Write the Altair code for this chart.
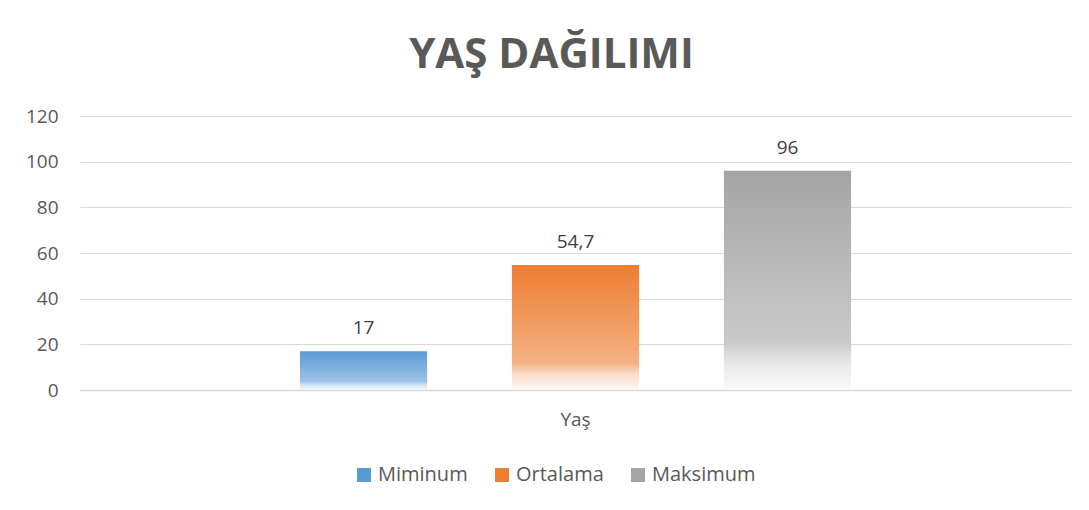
import altair as alt
import pandas as pd

# ---- data ----
category = "Yaş"
series = ["Miminum", "Ortalama", "Maksimum"]
values = [17, 54.7, 96]
value_labels = ["17", "54,7", "96"]
y_ticks = [0, 20, 40, 60, 80, 100, 120]

base_colors = ["#5B9BD5", "#ED7D31", "#A5A5A5"]

df = pd.DataFrame({
    "cat": [category] * len(series),
    "series": series,
    "value": values,
    "label": value_labels,
})


def tint(hex_color, t):
    h = hex_color.lstrip("#")
    r, g, b = (int(h[i:i + 2], 16) for i in (0, 2, 4))
    r, g, b = (round(c + (255 - c) * t) for c in (r, g, b))
    return "#{:02X}{:02X}{:02X}".format(r, g, b)


def gradient(hex_color):
    return {
        "gradient": "linear",
        "x1": 0, "x2": 0, "y1": 0, "y2": 1,
        "stops": [
            {"offset": 0.0, "color": hex_color},
            {"offset": 0.78, "color": tint(hex_color, 0.40)},
            {"offset": 0.88, "color": tint(hex_color, 0.75)},
            {"offset": 1.0, "color": tint(hex_color, 0.94)},
        ],
    }


conditions = [
    {"test": f"datum.series === '{s}'", "value": gradient(c)}
    for s, c in zip(series, base_colors)
]

FONT = "Open Sans"

x_enc = alt.X(
    "cat:N",
    title=None,
    scale=alt.Scale(paddingInner=0, paddingOuter=0.399),
    axis=alt.Axis(
        labelAngle=0, labelFontSize=19, labelColor="#595959", labelPadding=20,
        ticks=False, tickSize=0, domainColor="#D9D9D9", domainWidth=1.5,
        labelFont=FONT, grid=False,
    ),
)
xoff_enc = alt.XOffset(
    "series:N", sort=series,
    scale=alt.Scale(paddingInner=0.4, paddingOuter=0),
)
y_enc = alt.Y(
    "value:Q",
    title=None,
    scale=alt.Scale(domain=[0, 120], nice=False),
    axis=alt.Axis(
        values=y_ticks, labelFontSize=19, labelColor="#595959", labelPadding=22,
        ticks=False, tickSize=0, domain=False, gridColor="#D9D9D9", gridWidth=1,
        labelFont=FONT,
    ),
)

bars = alt.Chart(df).mark_bar().encode(
    x=x_enc,
    xOffset=xoff_enc,
    y=y_enc,
    color=alt.Color(
        "series:N",
        sort=series,
        scale=alt.Scale(domain=series, range=base_colors),
        condition=conditions,
        legend=alt.Legend(
            title=None, orient="none", direction="horizontal",
            legendX=274, legendY=349,
            symbolType="square", symbolSize=196, symbolStrokeWidth=0,
            labelFontSize=20, labelColor="#595959", labelFont=FONT,
            labelOffset=4, columnPadding=24, padding=0,
        ),
    ),
)

texts = alt.Chart(df).mark_text(
    baseline="alphabetic", dy=-17, fontSize=19, color="#404040", font=FONT,
).encode(
    x=alt.X("cat:N"),
    xOffset=alt.XOffset("series:N", sort=series),
    y=alt.Y("value:Q"),
    text="label:N",
)

chart = alt.layer(bars, texts).properties(
    width=991,
    height=274,
    background="white",
    padding={"left": 72, "top": 108, "right": 10, "bottom": 112},
    autosize=alt.AutoSizeParams(type="none"),
    title=alt.TitleParams(
        "YAŞ DAĞILIMI", fontSize=42, font=FONT, fontWeight="bold",
        color="#595959", anchor="middle", dx=-24, offset=30,
    ),
).configure_view(stroke=None)

chart.save("out.html", embed_options={"renderer": "svg", "actions": False})
